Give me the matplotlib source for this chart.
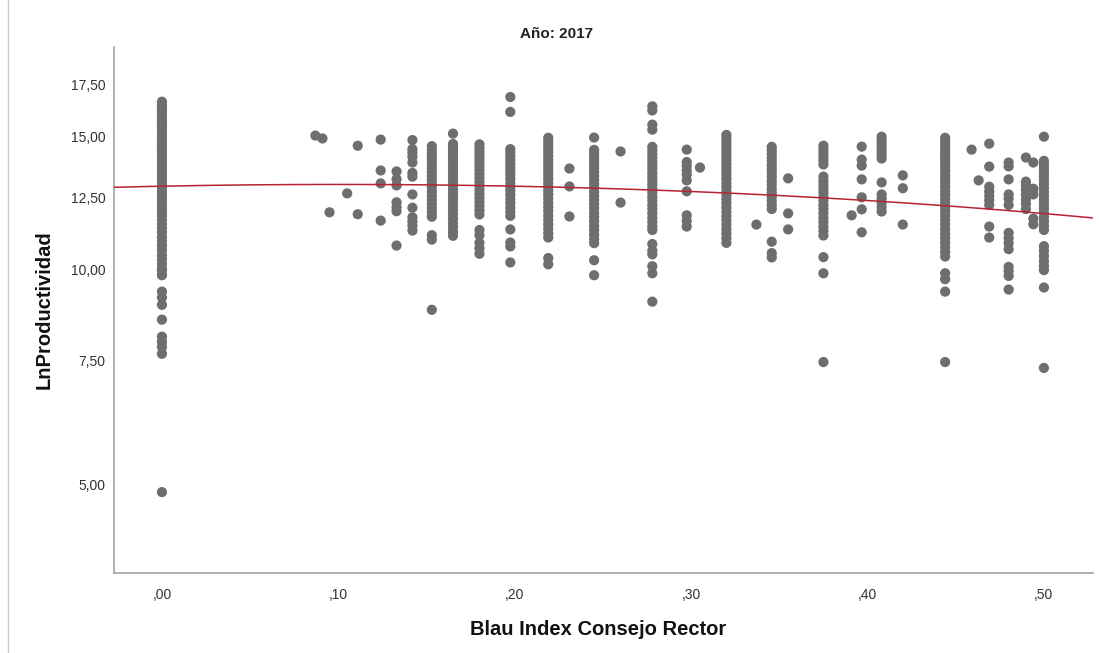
import numpy as np
import matplotlib
matplotlib.use('Agg')
import matplotlib.pyplot as plt
from matplotlib.lines import Line2D

plt.rcParams['font.family'] = ['Liberation Sans', 'DejaVu Sans']

# Blau index levels (x) and LnProductividad values read for each level
blau_levels = [0.0, 0.087, 0.091, 0.095, 0.105, 0.111, 0.124, 0.133, 0.142, 0.153,
               0.165, 0.18, 0.1975, 0.219, 0.231, 0.245, 0.260, 0.278, 0.2975, 0.305,
               0.32, 0.337, 0.3457, 0.355, 0.375, 0.391, 0.3967, 0.408, 0.42, 0.444,
               0.459, 0.463, 0.469, 0.48, 0.4898, 0.494, 0.5]

ln_prod = [
    [16.65, 16.48, 16.31, 16.17, 16.02, 15.86, 15.71, 15.55, 15.42, 15.27, 15.11, 14.96,
     14.82, 14.66, 14.51, 14.37, 14.22, 14.06, 13.91, 13.77, 13.62, 13.46, 13.31, 13.17,
     13.02, 12.86, 12.71, 12.57, 12.42, 12.26, 12.11, 11.97, 11.82, 11.66, 11.51, 11.37,
     11.22, 11.06, 10.91, 10.77, 10.62, 10.46, 10.31, 10.17, 10.02, 9.95, 9.82,
     9.33, 9.16, 8.95, 8.54, 8.09, 7.96, 7.83, 7.66, 4.87],
    [15.05],
    [14.92],
    [11.93],
    [12.64],
    [14.6, 11.86],
    [14.87, 13.55, 13.03, 11.63],
    [13.51, 13.2, 12.95, 12.3, 12.12, 11.97, 10.77],
    [14.85, 14.45, 14.3, 14.12, 13.88, 13.45, 13.3, 12.6, 12.1, 11.75, 11.6, 11.45, 11.28],
    [14.58, 14.42, 14.27, 14.1, 13.96, 13.8, 13.63, 13.49, 13.32, 13.18, 13.01, 12.87,
     12.7, 12.55, 12.39, 12.24, 12.08, 11.93, 11.77, 11.12, 10.97, 8.81],
    [15.14, 14.68, 14.52, 14.37, 14.2, 14.05, 13.89, 13.73, 13.58, 13.42, 13.27, 13.1,
     12.95, 12.79, 12.64, 12.48, 12.33, 12.17, 12.01, 11.86, 11.7, 11.55, 11.39, 11.24, 11.1],
    [14.66, 14.5, 14.34, 14.19, 14.03, 13.87, 13.72, 13.56, 13.4, 13.25, 13.09, 12.93,
     12.78, 12.62, 12.47, 12.31, 12.15, 12.0, 11.85, 11.3, 11.12, 10.86, 10.68, 10.5],
    [16.88, 16.15, 14.45, 14.3, 14.14, 13.98, 13.83, 13.67, 13.51, 13.36, 13.2, 13.04,
     12.89, 12.73, 12.58, 12.42, 12.27, 12.11, 11.95, 11.8, 11.32, 10.87, 10.74, 10.22],
    [14.95, 14.79, 14.63, 14.47, 14.32, 14.16, 14.0, 13.85, 13.69, 13.53, 13.38, 13.22,
     13.06, 12.91, 12.75, 12.6, 12.44, 12.28, 12.13, 11.97, 11.81, 11.66, 11.5, 11.35,
     11.19, 11.04, 10.36, 10.16],
    [13.63, 12.91, 11.78],
    [14.96, 14.42, 14.27, 14.11, 13.95, 13.8, 13.64, 13.48, 13.33, 13.17, 13.01, 12.86,
     12.7, 12.55, 12.39, 12.23, 12.08, 11.92, 11.76, 11.61, 11.45, 11.3, 11.14, 10.99,
     10.85, 10.29, 9.82],
    [14.35, 12.29],
    [16.42, 16.22, 15.55, 15.32, 14.55, 14.39, 14.23, 14.08, 13.92, 13.76, 13.61, 13.45,
     13.29, 13.14, 12.98, 12.83, 12.67, 12.51, 12.36, 12.2, 12.05, 11.89, 11.73, 11.58,
     11.42, 11.3, 10.82, 10.6, 10.48, 10.1, 9.88, 9.04],
    [14.43, 13.9, 13.75, 13.55, 13.38, 13.15, 12.72, 11.82, 11.62, 11.42],
    [13.67],
    [15.08, 14.92, 14.76, 14.61, 14.45, 14.29, 14.14, 13.98, 13.82, 13.67, 13.51, 13.36,
     13.2, 13.04, 12.89, 12.73, 12.57, 12.42, 12.26, 12.11, 11.95, 11.79, 11.64, 11.48,
     11.32, 11.17, 11.01, 10.86],
    [11.49],
    [14.55, 14.39, 14.23, 14.07, 13.92, 13.76, 13.6, 13.45, 13.29, 13.13, 12.98, 12.82,
     12.66, 12.51, 12.35, 12.2, 12.05, 10.9, 10.52, 10.38],
    [13.23, 11.89, 11.32],
    [14.6, 14.44, 14.28, 14.12, 13.96, 13.8, 13.3, 13.14, 12.98, 12.83, 12.67, 12.51,
     12.36, 12.2, 12.05, 11.89, 11.73, 11.58, 11.42, 11.27, 11.11, 10.39, 9.88, 7.46],
    [11.82],
    [14.56, 14.0, 13.75, 13.19, 12.49, 12.04, 11.22],
    [15.0, 14.84, 14.68, 14.52, 14.36, 14.2, 14.05, 13.07, 12.6, 12.44, 12.28, 12.12, 11.96],
    [13.35, 12.84, 11.49],
    [14.95, 14.79, 14.63, 14.47, 14.31, 14.16, 14.0, 13.84, 13.69, 13.53, 13.37, 13.21,
     13.06, 12.9, 12.74, 12.59, 12.43, 12.28, 12.12, 11.96, 11.81, 11.65, 11.5, 11.34,
     11.18, 11.03, 10.87, 10.72, 10.56, 10.41, 9.88, 9.7, 9.33, 7.46],
    [14.43],
    [13.15],
    [14.69, 13.71, 12.9, 12.72, 12.55, 12.38, 12.2, 11.42, 11.04],
    [13.88, 13.72, 13.19, 12.6, 12.44, 12.2, 11.2, 11.02, 10.85, 10.65, 10.08, 9.95, 9.8, 9.39],
    [14.09, 13.1, 12.95, 12.78, 12.6, 12.42, 12.25, 12.05],
    [13.88, 12.82, 12.6, 11.7, 11.5],
    [15.0, 13.95, 13.79, 13.63, 13.48, 13.32, 13.16, 13.01, 12.85, 12.69, 12.54, 12.38,
     12.22, 12.07, 11.91, 11.75, 11.6, 11.44, 11.3, 10.75, 10.59, 10.43, 10.27, 10.12,
     9.98, 9.45, 7.32],
]

# quadratic fit line: a + b*x + c*x^2
fit_coef = [12.92, 1.38, -6.9]

xticks = [0.0, 0.1, 0.2, 0.3, 0.4, 0.5]
xtick_labels = [',00', ',10', ',20', ',30', ',40', ',50']
yticks = [5.0, 7.5, 10.0, 12.5, 15.0, 17.5]
ytick_labels = ['5,00', '7,50', '10,00', '12,50', '15,00', '17,50']

fig = plt.figure(figsize=(10.99, 6.53), dpi=100)
ax = fig.add_axes([0.1037, 0.1225, 0.8908, 0.8055])

xs = []
ys = []
for lvl, vals in zip(blau_levels, ln_prod):
    xs.extend([lvl] * len(vals))
    ys.extend(vals)
ax.scatter(xs, ys, s=54, color='#6e6e6e', edgecolors='none', zorder=2)

xlim = (-0.0272, 0.5278)
xx = np.linspace(xlim[0], xlim[1], 200)
yy = fit_coef[0] + fit_coef[1] * xx + fit_coef[2] * xx ** 2
ax.plot(xx, yy, color='#b8232f', lw=1.1, zorder=3)

ax.set_yscale('function', functions=(lambda v: np.power(np.clip(v, 1e-9, None), 0.1),
                                     lambda v: np.power(np.clip(v, 0, None), 10.0)))
ax.set_xlim(*xlim)
ax.set_ylim(3.70, 19.55)
ax.set_xticks(xticks)
ax.set_xticklabels(xtick_labels)
ax.set_yticks(yticks)
ax.set_yticklabels(ytick_labels)
ax.yaxis.set_minor_locator(matplotlib.ticker.NullLocator())

ax.tick_params(axis='both', length=0, labelsize=10, colors='#333333')
ax.tick_params(axis='x', pad=11)
ax.tick_params(axis='y', pad=6)

for side in ['top', 'right']:
    ax.spines[side].set_visible(False)
for side in ['left', 'bottom']:
    ax.spines[side].set_color('#9a9a9a')
    ax.spines[side].set_linewidth(1.1)

ax.set_xlabel('Blau Index Consejo Rector', fontsize=14.5, fontweight='bold', color='#111111')
ax.set_ylabel('LnProductividad', fontsize=14.5, fontweight='bold', color='#111111')
ax.xaxis.set_label_coords(0.495, -0.089)
ax.yaxis.set_label_coords(-0.062, 0.5)

fig.text(557 / 1099, 1 - 34 / 653, 'Año: 2017', ha='center', va='center',
         fontsize=11, fontweight='bold', color='#222222')

fig.add_artist(Line2D([8 / 1099, 8 / 1099], [0, 1], transform=fig.transFigure,
                      color='#c8c8c8', lw=1.0))

fig.savefig('out.png', dpi=100)
